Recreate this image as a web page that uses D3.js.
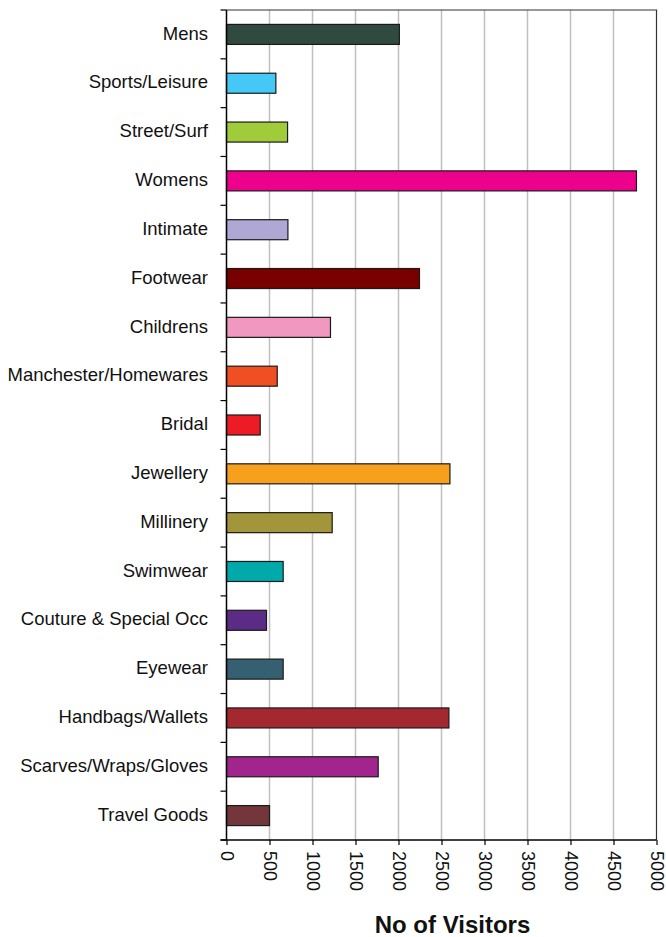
<!DOCTYPE html>
<html>
<head>
<meta charset="utf-8">
<script src="https://cdn.jsdelivr.net/npm/d3@7"></script>
<style>
  body { margin: 0; background: #fff; }
  svg { display: block; font-family: Arial, "Liberation Sans", sans-serif; }
</style>
</head>
<body>
<div id="chart"></div>
<script>
// Categories, top to bottom
const categories = ['Mens', 'Sports/Leisure', 'Street/Surf', 'Womens', 'Intimate', 'Footwear',
  'Childrens', 'Manchester/Homewares', 'Bridal', 'Jewellery', 'Millinery', 'Swimwear',
  'Couture & Special Occ', 'Eyewear', 'Handbags/Wallets', 'Scarves/Wraps/Gloves', 'Travel Goods'];
// No of visitors
const visitors = [2010, 574, 710, 4767, 714, 2244, 1209, 590, 392, 2598, 1229, 659, 465, 659, 2586, 1764, 500];
const barColors = ['#304a3f', '#44c8f5', '#a0cc3a', '#ec008c', '#b0a8d4', '#780000', '#f098c0',
  '#f04e23', '#ed1c24', '#f7a01e', '#a3953a', '#00aaaa', '#5b2c86', '#356072', '#a4282f',
  '#a1258d', '#73363a'];
const xTicks = [0, 500, 1000, 1500, 2000, 2500, 3000, 3500, 4000, 4500, 5000];
const xTitle = 'No of Visitors';

const width = 666, height = 937;
const margin = {top: 10, right: 9.5, bottom: 97, left: 226.5};
const innerW = width - margin.left - margin.right,
      innerH = height - margin.top - margin.bottom;

const data = categories.map((c, i) => ({cat: c, value: visitors[i], color: barColors[i]}));

const svg = d3.select('#chart').append('svg')
  .attr('width', width).attr('height', height);
const g = svg.append('g').attr('transform', `translate(${margin.left},${margin.top})`);

const x = d3.scaleLinear().domain([0, 5000]).range([0, innerW]);
// bars take ~41% of each row, centred
const y = d3.scaleBand().domain(categories).range([0, innerH]).paddingInner(0.59).paddingOuter(0.295);
const rows = d3.scaleBand().domain(categories).range([0, innerH]).padding(0);

// grid lines
g.selectAll('line.grid').data(xTicks.slice(1, -1)).join('line')
  .attr('class', 'grid')
  .attr('x1', d => x(d)).attr('x2', d => x(d))
  .attr('y1', 0).attr('y2', innerH)
  .attr('stroke', '#c0c0c0').attr('stroke-width', 1.5);

// frame top + right
g.append('path')
  .attr('d', `M0,0H${innerW}V${innerH}`)
  .attr('fill', 'none').attr('stroke', '#333').attr('stroke-width', 1.2);

// bars
g.selectAll('rect.bar').data(data).join('rect')
  .attr('class', 'bar')
  .attr('x', 0)
  .attr('y', d => y(d.cat))
  .attr('width', d => x(d.value))
  .attr('height', y.bandwidth())
  .attr('fill', d => d.color)
  .attr('stroke', '#1a1a1a').attr('stroke-width', 1.2);

// y axis: ticks on row boundaries, labels centred on rows
const yAxis = g.append('g');
yAxis.append('line').attr('x1', 0).attr('x2', 0).attr('y1', 0).attr('y2', innerH)
  .attr('stroke', '#000').attr('stroke-width', 1.5);
const bounds = categories.map(c => rows(c)).concat([innerH]);
yAxis.selectAll('line.tick').data(bounds).join('line')
  .attr('class', 'tick')
  .attr('x1', -6).attr('x2', 0)
  .attr('y1', d => d).attr('y2', d => d)
  .attr('stroke', '#000').attr('stroke-width', 1.2);
yAxis.selectAll('text').data(categories).join('text')
  .attr('x', -18.5)
  .attr('y', d => rows(d) + rows.bandwidth() / 2)
  .attr('dy', '0.28em')
  .attr('text-anchor', 'end')
  .attr('font-size', 18.5)
  .attr('fill', '#111')
  .text(d => d);

// x axis
const xAxis = g.append('g').attr('transform', `translate(0,${innerH})`)
  .call(d3.axisBottom(x).tickValues(xTicks).tickSize(5).tickSizeOuter(0).tickFormat(d3.format('d')));
xAxis.select('.domain').attr('d', `M-6,0H${innerW}`).attr('stroke', '#000').attr('stroke-width', 1.5);
xAxis.selectAll('.tick line').attr('stroke', '#000').attr('stroke-width', 1.2);
xAxis.selectAll('.tick text')
  .attr('font-size', 18)
  .attr('font-family', 'Arial, "Liberation Sans", sans-serif')
  .attr('fill', '#111')
  .attr('text-anchor', 'start')
  .attr('transform', 'rotate(90)')
  .attr('x', 11).attr('y', 0).attr('dy', '0.35em');

// x title
svg.append('text')
  .attr('x', 452.5).attr('y', 933)
  .attr('text-anchor', 'middle')
  .attr('font-size', 24).attr('font-weight', 'bold')
  .attr('fill', '#111')
  .text(xTitle);
</script>
</body>
</html>
